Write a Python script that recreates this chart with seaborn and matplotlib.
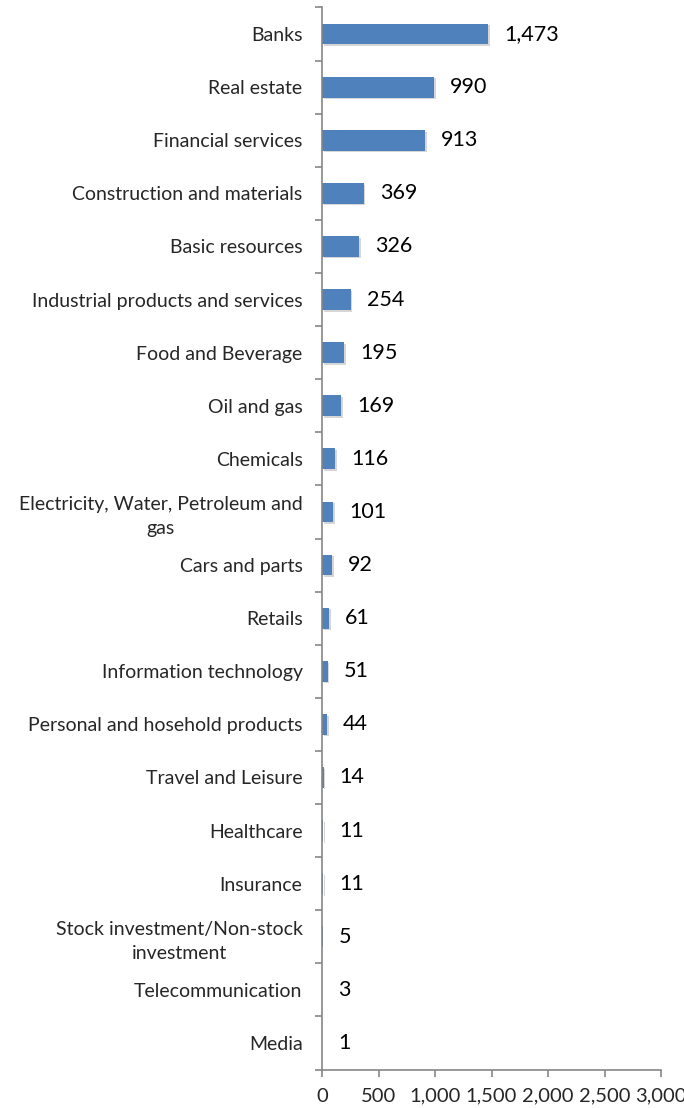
import matplotlib
matplotlib.use("Agg")
import matplotlib.pyplot as plt
import matplotlib.patheffects as pe
from matplotlib.ticker import FixedLocator, FuncFormatter
import seaborn as sns
import pandas as pd

categories = [
    "Banks", "Real estate", "Financial services", "Construction and materials",
    "Basic resources", "Industrial products and services", "Food and Beverage",
    "Oil and gas", "Chemicals", "Electricity, Water, Petroleum and\ngas",
    "Cars and parts", "Retails", "Information technology",
    "Personal and hosehold products", "Travel and Leisure", "Healthcare",
    "Insurance", "Stock investment/Non-stock\ninvestment", "Telecommunication", "Media",
]
values = [1473, 990, 913, 369, 326, 254, 195, 169, 116, 101, 92, 61, 51, 44, 14, 11, 11, 5, 3, 1]
x_ticks = [0, 500, 1000, 1500, 2000, 2500, 3000]

sns.set_theme(style="white")
plt.rcParams["font.family"] = ["Lato", "DejaVu Sans"]

df = pd.DataFrame({"category": categories, "value": values})

fig = plt.figure(figsize=(6.84, 11.08), dpi=100)
ax = fig.add_axes([322 / 684, 1 - 1069.5 / 1108, (661 - 322) / 684, (1069.5 - 7.5) / 1108])

sns.barplot(data=df, x="value", y="category", orient="h", color="#4F81BD",
            saturation=1, width=0.39, linewidth=0, ax=ax)

for p in ax.patches:
    p.set_path_effects([pe.SimplePatchShadow(offset=(1.2, -1.2), shadow_rgbFace="#8a8a8a", alpha=0.35), pe.Normal()])

for i, v in enumerate(values):
    ax.annotate(f"{v:,}", xy=(v, i), xytext=(11.5, 0), textcoords="offset points",
                va="center", ha="left", fontsize=15.5, color="black")

ax.set_xlim(0, 3000)
ax.set_ylim(len(categories) - 0.5, -0.5)
ax.xaxis.set_major_locator(FixedLocator(x_ticks))
ax.xaxis.set_major_formatter(FuncFormatter(lambda x, _: f"{int(x):,}"))
ax.set_xlabel("")
ax.set_ylabel("")

ax.set_yticks(range(len(categories)))
ax.set_yticklabels(categories, multialignment="center", fontsize=14, linespacing=1.45)
ax.set_yticks([i - 0.5 for i in range(len(categories) + 1)], minor=True)
ax.tick_params(axis="y", which="major", length=0, pad=14)
ax.tick_params(axis="y", which="minor", length=5, width=1.2, color="#868686", left=True)
ax.tick_params(axis="x", which="major", length=5, width=1.2, color="#868686", bottom=True,
               labelsize=14.5, pad=8)

for s in ["top", "right"]:
    ax.spines[s].set_visible(False)
for s in ["left", "bottom"]:
    ax.spines[s].set_color("#868686")
    ax.spines[s].set_linewidth(1.2)

fig.savefig("out.png", dpi=100)
